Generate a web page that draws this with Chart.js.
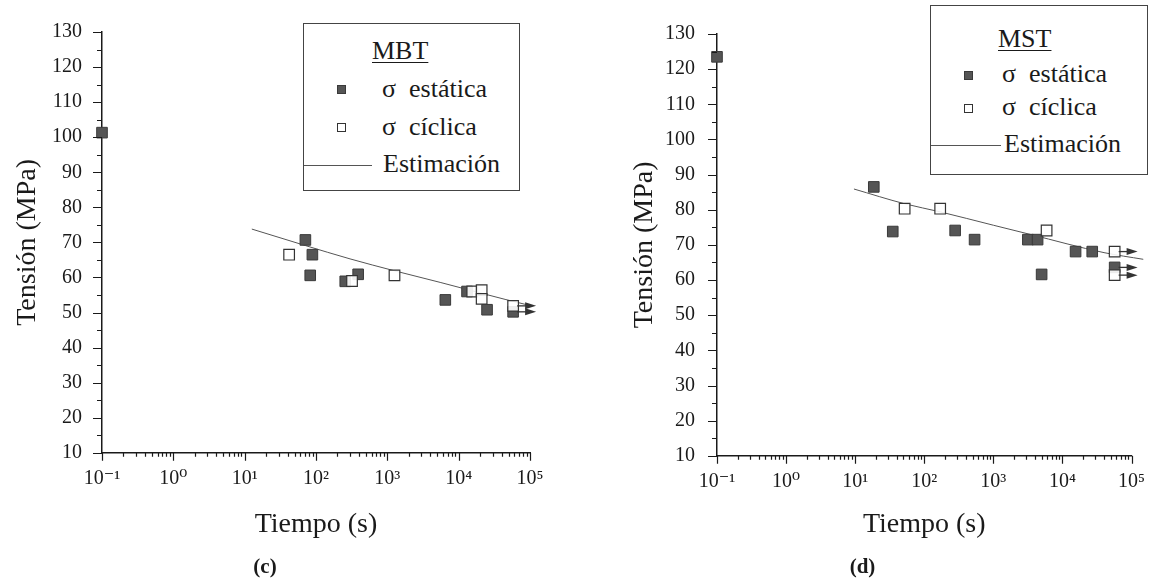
<!DOCTYPE html>
<html>
<head>
<meta charset="utf-8">
<script src="https://cdn.jsdelivr.net/npm/chart.js@4.4.1/dist/chart.umd.min.js"></script>
<style>
  html, body { margin: 0; padding: 0; background: #fff; }
  body { width: 1159px; height: 581px; position: relative; overflow: hidden;
         font-family: 'Liberation Serif', 'DejaVu Serif', serif; color: #1a1a1a; }
  canvas { position: absolute; top: 0; }
  .box { position: absolute; border: 1px solid #444; box-sizing: border-box; background: #fff; }
  .lt  { position: absolute; font-size: 26px; line-height: 28px; white-space: pre; }
  .u   { text-decoration: underline; text-decoration-thickness: 1px; text-underline-offset: 3px; }
  .sq  { position: absolute; width: 9px; height: 9px; box-sizing: border-box; }
  .sq.fill { background: #555; border: 1px solid #3a3a3a; }
  .sq.open { background: #fff; border: 1px solid #333; }
  .ln  { position: absolute; height: 0; border-top: 1px solid #555; }
</style>
</head>
<body>
<canvas id="chartMBT" width="580" height="581" style="left:0"></canvas>
<canvas id="chartMST" width="579" height="581" style="left:580px"></canvas>

<!-- MBT legend -->
<div class="box" style="left:303px;top:23px;width:217px;height:168px"></div>
<span class="lt u" style="left:372px;top:37px">MBT</span>
<i class="sq fill" style="left:337px;top:85px"></i>
<span class="lt" style="left:382px;top:75px">σ  estática</span>
<i class="sq open" style="left:337px;top:123px"></i>
<span class="lt" style="left:382px;top:113px">σ  cíclica</span>
<i class="ln" style="left:304px;top:165px;width:68px"></i>
<span class="lt" style="left:383px;top:150px">Estimación</span>

<!-- MST legend -->
<div class="box" style="left:930px;top:5px;width:218px;height:170px"></div>
<span class="lt u" style="left:998px;top:25px">MST</span>
<i class="sq fill" style="left:964px;top:71px"></i>
<span class="lt" style="left:1002px;top:60px">σ  estática</span>
<i class="sq open" style="left:964px;top:104px"></i>
<span class="lt" style="left:1002px;top:93px">σ  cíclica</span>
<i class="ln" style="left:931px;top:145px;width:70px"></i>
<span class="lt" style="left:1004px;top:130px">Estimación</span>

<script>
// ---- MBT (c) ----
const mbtStaticT  = [0.1, 71, 89, 83, 257, 390, 6500, 13100, 25000, 58000];
const mbtStaticS  = [101.3, 70.7, 66.5, 60.6, 58.9, 60.9, 53.6, 56.0, 50.8, 50.2];
const mbtCyclicT  = [42, 320, 1260, 15500, 21000, 21000, 58000];
const mbtCyclicS  = [66.5, 59.0, 60.6, 56.0, 56.4, 53.9, 51.9];
const mbtRunoutT  = [58000, 58000];
const mbtRunoutS  = [51.9, 50.2];
const mbtFitT     = [12.6, 71, 300, 1260, 5500, 20000, 100000, 407000];
const mbtFitS     = [73.8, 69.1, 65.3, 61.9, 58.6, 55.6, 52.0, 49.4];

// ---- MST (d) ----
const mstStaticT  = [0.1, 18.6, 35, 280, 535, 3160, 4370, 5000, 15500, 27000, 57000];
const mstStaticS  = [123.5, 86.5, 73.8, 74.1, 71.5, 71.5, 71.5, 61.6, 68.1, 68.1, 63.6];
const mstCyclicT  = [52, 170, 5900, 57000, 57000];
const mstCyclicS  = [80.3, 80.3, 74.1, 68.1, 61.4];
const mstRunoutT  = [57000, 57000, 57000];
const mstRunoutS  = [68.1, 63.6, 61.4];
const mstFitT     = [9.6, 52, 170, 1000, 3400, 40000, 148000];
const mstFitS     = [85.9, 81.7, 79.4, 75.6, 73.0, 67.8, 65.9];

const yTicks  = { min: 10, max: 130, step: 10 };
const xRange  = { min: 0.1, max: 1e5 };

const FONT = "'Liberation Serif', 'DejaVu Serif', serif";
const INK  = '#1a1a1a';
const SUP  = { '-': '\u207B', '0': '\u2070', '1': '\u00B9', '2': '\u00B2', '3': '\u00B3', '4': '\u2074', '5': '\u2075' };

function pairs(xs, ys) { return xs.map((x, i) => ({ x: x, y: ys[i] })); }
function powLabel(v) {
  const e = Math.log10(v);
  if (Math.abs(e - Math.round(e)) > 1e-6) return '';
  return '10' + String(Math.round(e)).split('').map(c => SUP[c]).join('');
}

// hand-drawn axis ticks: long at decades / multiples of 10, short in between
const axisTicks = {
  id: 'axisTicks',
  afterDraw(chart) {
    const { ctx, scales: { x, y } } = chart;
    ctx.save();
    ctx.strokeStyle = INK;
    ctx.lineWidth = 1.2;
    ctx.beginPath();
    for (let v = y.min; v <= y.max; v += 5) {
      const py = Math.round(y.getPixelForValue(v)) + 0.5;
      const len = v % 10 === 0 ? 9 : 5;
      ctx.moveTo(x.left - len, py); ctx.lineTo(x.left, py);
    }
    const e0 = Math.round(Math.log10(x.min)), e1 = Math.round(Math.log10(x.max));
    for (let e = e0; e <= e1; e++) {
      for (let k = 1; k <= 9; k++) {
        const v = k * Math.pow(10, e);
        if (v > x.max * 1.0001) break;
        const px = Math.round(x.getPixelForValue(v)) + 0.5;
        const len = k === 1 ? 8 : 4;
        ctx.moveTo(px, y.bottom); ctx.lineTo(px, y.bottom + len);
      }
    }
    ctx.stroke();
    ctx.restore();
  }
};

// arrows marking run-out specimens
const runoutArrows = {
  id: 'runoutArrows',
  afterDatasetsDraw(chart, args, opts) {
    const { ctx, scales: { x, y } } = chart;
    ctx.save();
    ctx.strokeStyle = '#333';
    ctx.fillStyle = '#333';
    ctx.lineWidth = 1.3;
    opts.t.forEach((t, i) => {
      const px = x.getPixelForValue(t), py = y.getPixelForValue(opts.s[i]);
      ctx.beginPath(); ctx.moveTo(px + 4, py); ctx.lineTo(px + 14, py); ctx.stroke();
      ctx.beginPath();
      ctx.moveTo(px + 23, py); ctx.lineTo(px + 12, py - 3.5); ctx.lineTo(px + 12, py + 3.5);
      ctx.closePath(); ctx.fill();
    });
    ctx.restore();
  }
};

function makePanel(id, o) {
  return new Chart(document.getElementById(id), {
    type: 'scatter',
    data: {
      datasets: [
        { label: 'Estimación', type: 'line', data: pairs(o.fitT, o.fitS),
          borderColor: '#555', borderWidth: 1, pointRadius: 0, fill: false,
          cubicInterpolationMode: 'monotone', clip: false, order: 3 },
        { label: 'σ estática', data: pairs(o.statT, o.statS),
          pointStyle: 'rect', pointRadius: 7.5, backgroundColor: '#555',
          borderColor: '#3a3a3a', borderWidth: 1, clip: false, order: 2 },
        { label: 'σ cíclica', data: pairs(o.cycT, o.cycS),
          pointStyle: 'rect', pointRadius: 7.5, backgroundColor: 'rgba(255,255,255,0.9)',
          borderColor: '#333', borderWidth: 1.2, clip: false, order: 1 }
      ]
    },
    options: {
      responsive: false,
      animation: false,
      events: [],
      layout: { padding: { left: 0, top: o.top, right: o.right, bottom: 0 } },
      plugins: {
        legend: { display: false },
        tooltip: { enabled: false },
        title: { display: true, text: o.tag, position: 'bottom', color: INK,
                 font: { family: FONT, size: 21, weight: 'bold' }, padding: { top: 0, bottom: 1 } },
        runoutArrows: { t: o.runT, s: o.runS }
      },
      scales: {
        x: {
          type: 'logarithmic', min: xRange.min, max: xRange.max,
          grid: { display: false, drawTicks: false },
          border: { display: true, color: INK, width: 1.5 },
          ticks: { autoSkip: false, maxRotation: 0, padding: 14, color: INK,
                   font: { family: FONT, size: 20 }, callback: v => powLabel(v) },
          title: { display: true, text: 'Tiempo (s)', color: INK,
                   font: { family: FONT, size: 28 }, padding: { top: 0, bottom: 13 } },
          afterFit: s => { s.height = o.xH; }
        },
        y: {
          min: yTicks.min, max: yTicks.max,
          grid: { display: false, drawTicks: false },
          border: { display: true, color: INK, width: 1.5 },
          ticks: { stepSize: yTicks.step, padding: o.yPad, color: INK,
                   font: { family: FONT, size: 20 } },
          title: { display: true, text: 'Tensión (MPa)', color: INK,
                   font: { family: FONT, size: 28 }, padding: { top: o.ytPad, bottom: 0 } },
          afterFit: s => { s.width = o.yW; }
        }
      }
    },
    plugins: [axisTicks, runoutArrows]
  });
}

makePanel('chartMBT', {
  statT: mbtStaticT, statS: mbtStaticS, cycT: mbtCyclicT, cycS: mbtCyclicS,
  runT: mbtRunoutT, runS: mbtRunoutS, fitT: mbtFitT, fitS: mbtFitS,
  tag: '(c)', top: 25, right: 50, xH: 102, yW: 102, yPad: 20, ytPad: 11
});
makePanel('chartMST', {
  statT: mstStaticT, statS: mstStaticS, cycT: mstCyclicT, cycS: mstCyclicS,
  runT: mstRunoutT, runS: mstRunoutS, fitT: mstFitT, fitS: mstFitS,
  tag: '(d)', top: 30, right: 14, xH: 99, yW: 137, yPad: 22, ytPad: 48
});
</script>
</body>
</html>
